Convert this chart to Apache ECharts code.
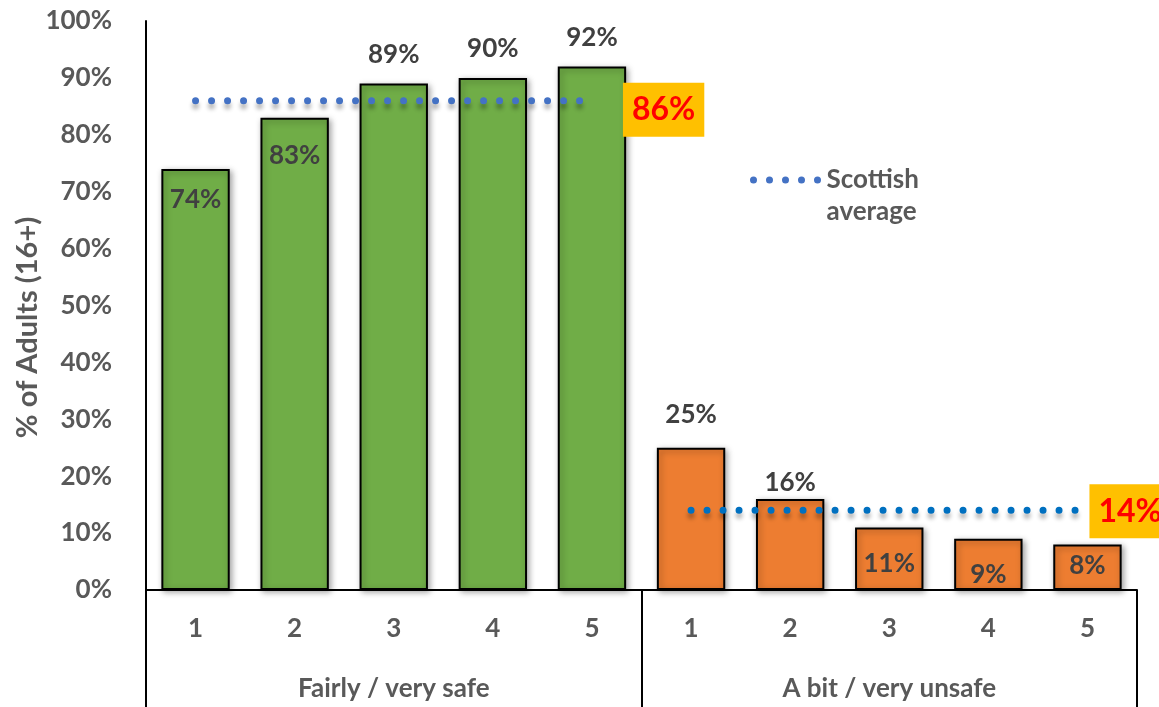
<!DOCTYPE html>
<html>
<head>
<meta charset="utf-8">
<style>
  html, body { margin: 0; padding: 0; background: #ffffff; }
  #chart { width: 1159px; height: 707px; }
</style>
<script src="https://cdn.jsdelivr.net/npm/echarts@6/dist/echarts.min.js"></script>
</head>
<body>
<div id="chart"></div>
<script>
// Rating categories (1–5) under each perception group
const ratingLabels = ['1', '2', '3', '4', '5', '1', '2', '3', '4', '5'];
const groupLabels = ['Fairly / very safe', 'A bit / very unsafe'];

// Share of adults (16+) feeling safe / unsafe, by rating
const safeValues = [74, 83, 89, 90, 92];
const unsafeValues = [25, 16, 11, 9, 8];

// Scottish averages for each group
const scotAvgSafe = 86;
const scotAvgUnsafe = 14;

const yTicks = { min: 0, max: 100, interval: 10 };

const FONT = 'Lato, "Open Sans", "Liberation Sans", sans-serif';
const GREEN = '#70AD47';
const ORANGE = '#ED7D31';

// label placement for each bar (inside the bar top or above it)
const labelPlacement = ['insideTop', 'insideTop', 'top', 'top', 'top', 'top', 'top', 'insideTop', 'insideTop', 'insideTop'];
const labelGap = [18, 25, 16, 16, 16, 20, 3, 23, 23, 8];

const barData = safeValues.map(v => ({ v, color: GREEN }))
  .concat(unsafeValues.map(v => ({ v, color: ORANGE })))
  .map((d, i) => ({
    value: d.v,
    itemStyle: { color: d.color },
    label: { position: labelPlacement[i], distance: labelGap[i] }
  }));

const avgSafeLine = safeValues.map(() => scotAvgSafe).concat(unsafeValues.map(() => '-'));
const avgUnsafeLine = safeValues.map(() => '-').concat(unsafeValues.map(() => scotAvgUnsafe));

const dotLine = (color) => ({
  color: color,
  width: 7,
  type: [0, 16],
  cap: 'round',
  shadowColor: 'rgba(0,0,0,0.3)',
  shadowBlur: 4,
  shadowOffsetY: 5
});

const avgLabel = (dist, dy) => ({
  show: true,
  formatter: p => p.value + '%',
  distance: dist,
  offset: [0, dy],
  color: '#FF0000',
  fontFamily: FONT,
  fontWeight: 'bold',
  fontSize: 32,
  lineHeight: 38,
  backgroundColor: '#FFC000',
  padding: [8, 9, 8, 9]
});

const chart = echarts.init(document.getElementById('chart'), null, { renderer: 'canvas' });

chart.setOption({
  animation: false,
  backgroundColor: '#ffffff',
  textStyle: { fontFamily: FONT },
  grid: { left: 146, right: 22, top: 21, bottom: 117, containLabel: false, outerBoundsMode: 'none' },
  legend: {
    data: ['Scottish average'],
    left: 750,
    top: 132,
    padding: 0,
    itemWidth: 68,
    itemHeight: 14,
    itemGap: 5,
    // leading blank line keeps the icon level with the first word
    formatter: () => '\nScottish\naverage',
    textStyle: {
      color: '#595959',
      fontFamily: FONT,
      fontWeight: 'bold',
      fontSize: 26,
      lineHeight: 32
    },
    lineStyle: { width: 7, shadowBlur: 0, shadowOffsetY: 0, shadowColor: 'rgba(0,0,0,0)' },
    itemStyle: { color: 'rgba(0,0,0,0)', borderWidth: 0 },
    selectedMode: false
  },
  xAxis: [
    {
      type: 'category',
      data: ratingLabels,
      position: 'bottom',
      axisLine: { show: true, lineStyle: { color: '#000000', width: 2 } },
      axisTick: { show: false },
      axisLabel: {
        color: '#595959', fontFamily: FONT, fontWeight: 'bold', fontSize: 26,
        margin: 26, interval: 0
      },
      splitLine: { show: false }
    },
    {
      type: 'category',
      data: groupLabels,
      position: 'bottom',
      offset: 0,
      axisLine: { show: false },
      axisTick: { show: true, interval: 0, length: 125, lineStyle: { color: '#000000', width: 2 } },
      axisLabel: {
        color: '#595959', fontFamily: FONT, fontWeight: 'bold', fontSize: 26,
        margin: 86, interval: 0
      },
      splitLine: { show: false }
    }
  ],
  yAxis: {
    type: 'value',
    min: yTicks.min,
    max: yTicks.max,
    interval: yTicks.interval,
    name: '% of Adults (16+)',
    nameLocation: 'middle',
    nameGap: 104,
    nameMoveOverlap: false,
    nameTextStyle: {
      color: '#595959', fontFamily: FONT, fontWeight: 'bold', fontSize: 29,
      padding: [0, 44, 0, 0]
    },
    axisLine: { show: true, lineStyle: { color: '#000000', width: 2 } },
    axisTick: { show: false },
    splitLine: { show: false },
    axisLabel: {
      color: '#595959', fontFamily: FONT, fontWeight: 'bold', fontSize: 26,
      margin: 34, formatter: '{value}%'
    }
  },
  series: [
    {
      type: 'bar',
      xAxisIndex: 0,
      data: barData,
      barWidth: '69%',
      itemStyle: {
        borderColor: '#000000',
        borderWidth: 2,
        shadowColor: 'rgba(0,0,0,0.35)',
        shadowBlur: 6,
        shadowOffsetX: 2,
        shadowOffsetY: 2
      },
      label: {
        show: true,
        formatter: '{c}%',
        color: '#404040',
        fontFamily: FONT,
        fontWeight: 'bold',
        fontSize: 26
      },
      emphasis: { disabled: true }
    },
    {
      name: 'Scottish average',
      type: 'line',
      xAxisIndex: 0,
      data: avgSafeLine,
      symbol: 'none',
      color: '#4472C4',
      lineStyle: dotLine('#4472C4'),
      endLabel: avgLabel(31, 9),
      emphasis: { disabled: true },
      z: 5
    },
    {
      name: 'Scottish average',
      type: 'line',
      xAxisIndex: 0,
      data: avgUnsafeLine,
      symbol: 'none',
      color: '#0070C0',
      lineStyle: dotLine('#0070C0'),
      endLabel: avgLabel(2, 1),
      emphasis: { disabled: true },
      z: 5
    }
  ]
});
</script>
</body>
</html>
